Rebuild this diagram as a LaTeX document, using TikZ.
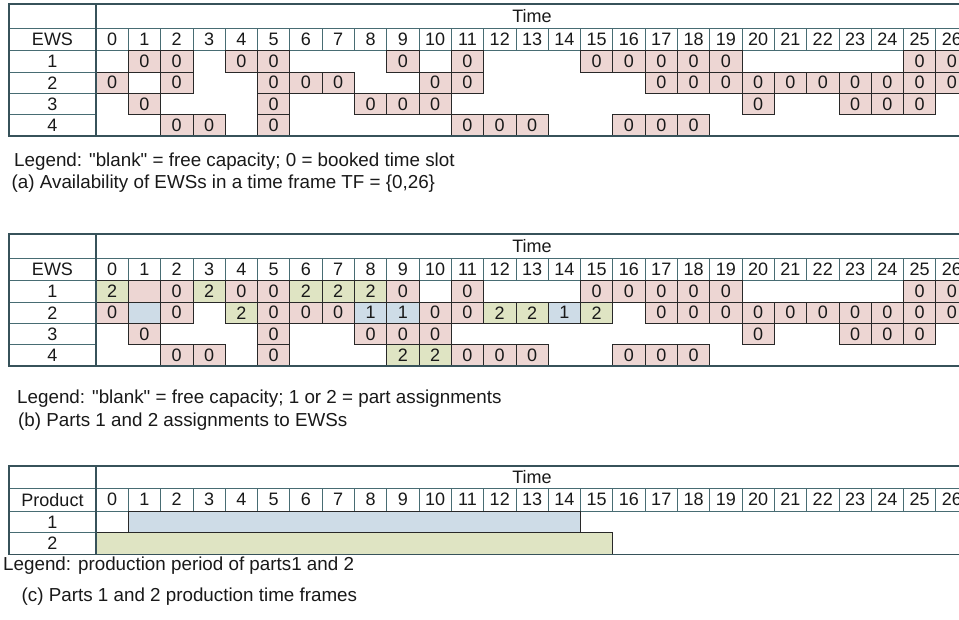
\documentclass[tikz,border=0pt]{standalone}
\usepackage{fontspec}
\setmainfont{Liberation Sans}[Ligatures=TeXOff]
\definecolor{framec}{RGB}{55,82,90}
\definecolor{gridc}{RGB}{72,108,115}
\definecolor{pinkc}{RGB}{237,214,211}
\definecolor{greenc}{RGB}{223,228,195}
\definecolor{bluec}{RGB}{206,220,231}
\definecolor{cellline}{RGB}{40,40,40}
\definecolor{textc}{RGB}{25,25,25}
\newcommand\tblfont{\fontsize{18}{18}\selectfont}
\newcommand\legfont{\fontsize{18.8}{18.8}\selectfont}
\tikzset{
  blankcell/.style={draw=gridc, line width=0.8pt, fill=white, inner sep=0pt, outer sep=0pt, anchor=north west, font=\tblfont, text=textc},
  frame/.style={draw=framec, line width=1.4pt},
  bookcell/.style={draw=cellline, line width=0.8pt, inner sep=0pt, outer sep=0pt, anchor=north west, minimum width=32.3pt, font=\tblfont, text=textc},
  pinkcell/.style={bookcell, fill=pinkc},
  greencell/.style={bookcell, fill=greenc},
  bluecell/.style={bookcell, fill=bluec},
  legend/.style={anchor=west, inner sep=0pt, font=\legfont, text=textc}
}
% #1 prefix, #2 top, #3 time row h, #4 number row h, #5 data row h, #6 rows, #7 label
\newcommand\drawframe[7]{%
  \pgfmathsetmacro\yA{#2+#3}%
  \pgfmathsetmacro\yB{#2+#3+#4}%
  \node[blankcell, minimum width=87pt, minimum height=#3pt] (#1-corner) at (9,#2) {};
  \node[blankcell, minimum width=872pt, minimum height=#3pt] (#1-time) at (96,#2) {Time};
  \node[blankcell, minimum width=87pt, minimum height=#4pt] (#1-label) at (9,\yA) {#7};
  \foreach \c in {0,...,26} {
    \node[blankcell, minimum width=32.3pt, minimum height=#4pt] (#1-h\c) at ({96+32.3*\c},\yA) {\c};
  }
  \foreach \r in {1,...,#6} {
    \node[blankcell, minimum width=87pt, minimum height=#5pt] (#1-r\r) at (9,{\yB+#5*(\r-1)}) {\r};
  }
}
% #1 prefix, #2 data top, #3 row h, #4 style, #5 text, #6 list row/{cols}
\newcommand\cells[6]{%
  \foreach \r/\cs in {#6} {
    \foreach \c in \cs {
      \node[#4, minimum height=#3pt] (#1-\r-\c) at ({96+32.3*\c},{#2+#3*(\r-1)}) {#5};
    }
  }
}
\begin{document}
\begin{tikzpicture}[x=1pt,y=-1pt]
\useasboundingbox (0,0) rectangle (959,619);
\fill[white] (0,0) rectangle (959,619);
\clip (0,0) rectangle (959,619);

% ---------------- (a) ----------------
\drawframe{a}{4}{24.3}{22.4}{21.35}{4}{EWS}
\cells{a}{50.7}{21.35}{pinkcell}{0}{1/{1,2,4,5,9,11,15,16,17,18,19,25,26},
  2/{0,2,5,6,7,10,11,17,18,19,20,21,22,23,24,25,26},
  3/{1,5,8,9,10,20,23,24,25},
  4/{2,3,5,11,12,13,16,17,18}}
\draw[frame] (9,4) rectangle (968,136.1);
\draw[frame] (96,4) -- (96,136.1);
\node[legend] (a-leg) at (14,162) {Legend: "blank" = free capacity; 0 = booked time slot};
\node[legend] (a-cap) at (11.5,184) {(a) Availability of EWSs in a time frame TF = \{0,26\}};

% ---------------- (b) ----------------
\drawframe{b}{234}{24.3}{22.4}{21.35}{4}{EWS}
\cells{b}{280.7}{21.35}{pinkcell}{0}{1/{2,4,5,9,11,15,16,17,18,19,25,26},
  2/{0,2,5,6,7,10,11,17,18,19,20,21,22,23,24,25,26},
  3/{1,5,8,9,10,20,23,24,25},
  4/{2,3,5,11,12,13,16,17,18}}
\cells{b}{280.7}{21.35}{pinkcell}{}{1/{1}}
\cells{b}{280.7}{21.35}{greencell}{2}{1/{0,3,6,7,8}, 2/{4,12,13,15}, 4/{9,10}}
\cells{b}{280.7}{21.35}{bluecell}{1}{2/{8,9,14}}
\cells{b}{280.7}{21.35}{bluecell}{}{2/{1}}
\draw[frame] (9,234) rectangle (968,366.1);
\draw[frame] (96,234) -- (96,366.1);
\node[legend] (b-leg) at (17,398.5) {Legend: "blank" = free capacity; 1 or 2 = part assignments};
\node[legend] (b-cap) at (18,422) {(b) Parts 1 and 2 assignments to EWSs};

% ---------------- (c) ----------------
\drawframe{c}{466}{22.3}{22.7}{21.65}{2}{Product}
\node[bookcell, fill=bluec, minimum width=452.2pt, minimum height=21.65pt] (c-p1) at (128.3,511) {};
\node[bookcell, fill=greenc, minimum width=516.8pt, minimum height=21.65pt] (c-p2) at (96,532.65) {};
\draw[frame] (9,466) rectangle (968,554.3);
\draw[frame] (96,466) -- (96,554.3);
\node[legend] (c-leg) at (3,565.5) {Legend: production period of parts1 and 2};
\node[legend] (c-cap) at (21.5,596.5) {(c) Parts 1 and 2 production time frames};
\end{tikzpicture}
\end{document}
